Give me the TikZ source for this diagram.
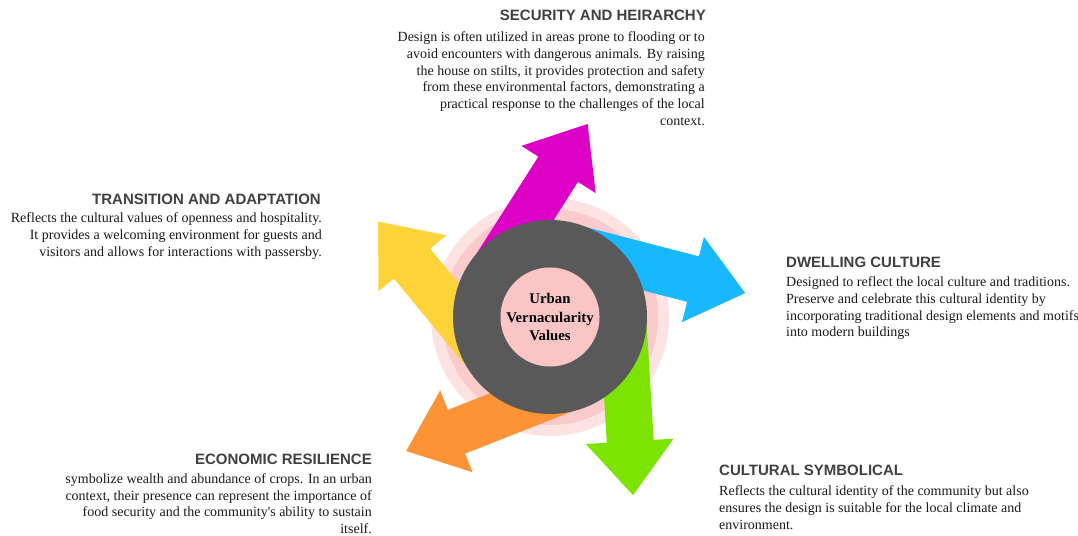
\documentclass[tikz,border=0pt]{standalone}
\usepackage{fontspec}
\setmainfont{Liberation Serif}
\newfontfamily\headfont{Liberation Sans}
\definecolor{haloout}{HTML}{FDE2E2}
\definecolor{haloin}{HTML}{FBCACA}
\definecolor{ringdark}{HTML}{595959}
\definecolor{corepink}{HTML}{FBC5C5}
\definecolor{armmagenta}{HTML}{DD00C5}
\definecolor{armblue}{HTML}{18B8FE}
\definecolor{armgreen}{HTML}{7DE302}
\definecolor{armorange}{HTML}{FD9337}
\definecolor{armyellow}{HTML}{FED337}
\definecolor{headgray}{HTML}{404040}
\definecolor{bodyblack}{HTML}{1A1A1A}
% one block arrow of the pinwheel, offset to the left of its own axis
\newcommand\pinarrow[2]{%
  \fill[#1, shift={(c)}, rotate=#2]
    (0,49) -- (129,49) -- (129,28) -- (183,72) -- (129,116) -- (129,96) -- (0,96) -- cycle;}
\begin{document}
\begin{tikzpicture}[x=1pt,y=1pt,
  heading/.style={font=\headfont\bfseries\fontsize{15}{18}\selectfont, text=headgray, inner sep=0pt},
  bodytext/.style={font=\fontsize{14}{16.7}\selectfont, text=bodyblack, inner sep=0pt},
  disc/.style={circle, inner sep=0pt, draw=none}]
\useasboundingbox (0,0) rectangle (1078,535);
\fill[white] (0,0) rectangle (1078,535);
\coordinate (c) at (550,218);

% soft halo behind the wheel
\node[disc, fill=haloout, minimum size=238pt] (haloA) at (c) {};
\node[disc, fill=haloin, minimum size=216pt] (haloB) at (c) {};

% five arrows, 72 degrees apart
\pinarrow{armmagenta}{57.5}
\pinarrow{armblue}{-14.5}
\pinarrow{armgreen}{-86.5}
\pinarrow{armorange}{-158.5}
\pinarrow{armyellow}{129.5}

% hub
\node[disc, fill=ringdark, minimum size=194pt] (ring) at (c) {};
\node[disc, fill=corepink, minimum size=96pt, align=center,
      font=\bfseries\fontsize{14.8}{18.3}\selectfont] (core) at (c)
      {Urban\\Vernacularity\\Values};

% security and heirarchy
\node[heading, anchor=east] (secH) at (706,520) {SECURITY AND HEIRARCHY};
\node[bodytext, anchor=north east, align=right] (secT) at (705,503.3)
  {Design is often utilized in areas prone to flooding or to\\
   avoid encounters with dangerous animals. By raising\\
   the house on stilts, it provides protection and safety\\
   from these environmental factors, demonstrating a\\
   practical response to the challenges of the local\\
   context.};

% transition and adaptation
\node[heading, anchor=east] (traH) at (321,336) {TRANSITION AND ADAPTATION};
\node[bodytext, anchor=north east, align=right] (traT) at (322,322.3)
  {Reflects the cultural values of openness and hospitality.\\
   It provides a welcoming environment for guests and\\
   visitors and allows for interactions with passersby.};

% dwelling culture
\node[heading, anchor=west] (dweH) at (786,273) {DWELLING CULTURE};
\node[bodytext, anchor=north west, align=left] (dweT) at (786,258.3)
  {Designed to reflect the local culture and traditions.\\
   Preserve and celebrate this cultural identity by\\
   incorporating traditional design elements and motifs\\
   into modern buildings};

% economic resilience
\node[heading, anchor=east] (ecoH) at (372,76) {ECONOMIC RESILIENCE};
\node[bodytext, anchor=north east, align=right] (ecoT) at (372,61.5)
  {symbolize wealth and abundance of crops. In an urban\\
   context, their presence can represent the importance of\\
   food security and the community\textquotesingle s ability to sustain\\
   itself.};

% cultural symbolical
\node[heading, anchor=west] (culH) at (719,65) {CULTURAL SYMBOLICAL};
\node[bodytext, anchor=north west, align=left] (culT) at (719,49.3)
  {Reflects the cultural identity of the community but also\\
   ensures the design is suitable for the local climate and\\
   environment.};
\end{tikzpicture}
\end{document}
